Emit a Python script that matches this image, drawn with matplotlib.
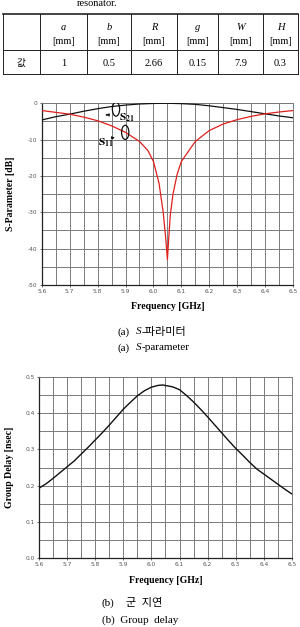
"""
S-parameter and group delay of the resonator, with the dimension table above.
"""

import matplotlib
matplotlib.use("Agg")
import matplotlib.pyplot as plt
from matplotlib.patches import Ellipse

plt.rcParams["mathtext.fontset"] = "stix"

SERIF = ["Liberation Serif", "DejaVu Serif"]
KOREAN = ["Liberation Serif", "Noto Sans CJK KR"]

# table
table_heads = ["a", "b", "R", "g", "W", "H"]
table_unit = "[mm]"
table_row_label = "값"
table_values = ["1", "0.5", "2.66", "0.15", "7.9", "0.3"]

# (a) S-parameter
s21_freq = [5.6, 5.65, 5.7, 5.75, 5.8, 5.85, 5.9, 5.95, 6.0, 6.05,
            6.1, 6.15, 6.2, 6.25, 6.3, 6.35, 6.4, 6.45, 6.5]
s21_db = [-4.6, -3.7, -3.0, -2.2, -1.5, -0.9, -0.5, -0.2, -0.05, 0.0,
          -0.1, -0.3, -0.7, -1.2, -1.7, -2.3, -2.9, -3.5, -4.0]

s11_freq = [5.6, 5.65, 5.7, 5.75, 5.8, 5.85, 5.9, 5.95, 5.98, 6.0, 6.02,
            6.035, 6.045, 6.05, 6.055, 6.06, 6.07, 6.085, 6.1, 6.15,
            6.2, 6.25, 6.3, 6.35, 6.4, 6.45, 6.5]
s11_db = [-2.0, -2.5, -3.0, -3.8, -4.8, -6.2, -8.0, -10.5, -13.0, -16.0, -22.0,
          -30.0, -38.0, -43.0, -37.0, -31.0, -25.0, -19.5, -16.0, -10.5,
          -7.5, -5.7, -4.5, -3.6, -2.9, -2.4, -2.0]

# (b) group delay
gd_freq = [5.6, 5.625, 5.65, 5.675, 5.7, 5.725, 5.75, 5.775, 5.8, 5.825,
           5.85, 5.875, 5.9, 5.925, 5.95, 5.975, 6.0, 6.025, 6.04, 6.075,
           6.1, 6.125, 6.15, 6.175, 6.2, 6.225, 6.25, 6.275, 6.3, 6.325,
           6.35, 6.375, 6.4, 6.425, 6.45, 6.475, 6.5]
gd_nsec = [0.193, 0.205, 0.220, 0.236, 0.252, 0.268, 0.287, 0.306, 0.326, 0.346,
           0.367, 0.389, 0.411, 0.430, 0.448, 0.462, 0.472, 0.477, 0.478, 0.473,
           0.465, 0.449, 0.431, 0.411, 0.390, 0.368, 0.346, 0.324, 0.303, 0.284,
           0.264, 0.246, 0.232, 0.218, 0.204, 0.190, 0.177]

freq_ticks = [5.6, 5.7, 5.8, 5.9, 6.0, 6.1, 6.2, 6.3, 6.4, 6.5]


def _style_axes(ax, yticks, ylabels, ylim):
    ax.set_xlim(5.6, 6.5)
    ax.set_ylim(*ylim)
    ax.set_xticks(freq_ticks)
    ax.set_xticklabels([f"{t:.1f}" for t in freq_ticks])
    ax.set_yticks(yticks)
    ax.set_yticklabels(ylabels)
    ax.set_xticks([5.6 + 0.05 * i for i in range(19)], minor=True)
    ax.tick_params(which="both", length=1.5, width=0.6, colors="#555555",
                   labelsize=4.2, pad=1.5)
    ax.tick_params(which="minor", length=0)
    ax.grid(True, which="both", color="#7a7a7a", linewidth=0.7)
    for name, sp in ax.spines.items():
        sp.set_color("#222222" if name in ("left", "bottom") else "#7a7a7a")
        sp.set_linewidth(0.9 if name in ("left", "bottom") else 0.7)


fig = plt.figure(figsize=(3.0, 6.27), dpi=100)

# page overlay in pixel coordinates: table and captions
page = fig.add_axes([0, 0, 1, 1], zorder=-1)
page.set_xlim(0, 300)
page.set_ylim(627, 0)
page.axis("off")

page.text(97, 4, "resonator.", ha="center", va="center", fontsize=7.5, family=SERIF)

col_x = [3, 40, 87, 131, 177, 218, 263, 298]
row_y = [14, 50, 74]
for y in row_y:
    page.plot([col_x[0], col_x[-1]], [y, y], color="#222222",
              lw=1.2 if y == row_y[0] else 0.7)
for x in col_x:
    page.plot([x, x], [row_y[0], row_y[-1]], color="#222222", lw=0.7)

for i, (head, val) in enumerate(zip(table_heads, table_values)):
    cx = (col_x[i + 1] + col_x[i + 2]) / 2
    page.text(cx, 27, head, ha="center", va="center", fontsize=7.5,
              family=SERIF, style="italic")
    page.text(cx, 42, table_unit, ha="center", va="center", fontsize=7.5, family=SERIF)
    page.text(cx, 63, val, ha="center", va="center", fontsize=7.5, family=SERIF)
page.text((col_x[0] + col_x[1]) / 2, 63, table_row_label, ha="center", va="center",
          fontsize=7, family=["Noto Sans CJK KR"])

# (a) S-parameter
ax1 = fig.add_axes([0.139, 0.5455, 0.838, 0.2898])
ax1.plot(s21_freq, s21_db, color="#111111", lw=0.9, zorder=3)
ax1.plot(s11_freq, s11_db, color="#e0201c", lw=0.9, zorder=4)
_style_axes(ax1, [0, -10, -20, -30, -40, -50],
            ["0", "-10", "-20", "-30", "-40", "-50"], (-50, 0))
ax1.set_yticks([-5, -15, -25, -35, -45], minor=True)
ax1.set_ylabel("S-Parameter [dB]", fontsize=7, family=SERIF, fontweight="bold", labelpad=9)
ax1.set_xlabel("Frequency [GHz]", fontsize=7, family=SERIF, fontweight="bold", labelpad=6)

ax1.add_patch(Ellipse((5.866, -1.6), 0.026, 3.9, fill=False, ec="#111111", lw=0.9, zorder=5))
ax1.annotate("", xy=(5.82, -3.2), xytext=(5.842, -3.2),
             arrowprops=dict(arrowstyle="-|>", color="#111111", lw=0.7,
                             mutation_scale=4))
ax1.text(5.876, -4.0, r"$\mathbf{S_{21}}$", fontsize=8, ha="left", va="center", zorder=6)
ax1.add_patch(Ellipse((5.899, -8.0), 0.026, 3.9, fill=False, ec="#111111", lw=0.9, zorder=5))
ax1.annotate("", xy=(5.872, -9.5), xytext=(5.84, -9.5),
             arrowprops=dict(arrowstyle="-|>", color="#111111", lw=0.7,
                             mutation_scale=4))
ax1.text(5.8, -11.0, r"$\mathbf{S_{11}}$", fontsize=8, ha="left", va="center", zorder=6)

page.text(118, 332, "(a)", ha="left", va="center", fontsize=8, family=SERIF)
page.text(136, 332, "S", ha="left", va="center", fontsize=8, family=SERIF, style="italic")
page.text(141.5, 332, "-파라미터", ha="left", va="center", fontsize=8, family=KOREAN)
page.text(118, 348, "(a)", ha="left", va="center", fontsize=8, family=SERIF)
page.text(136, 348, "S", ha="left", va="center", fontsize=8, family=SERIF, style="italic")
page.text(141.5, 348, "-parameter", ha="left", va="center", fontsize=8, family=SERIF)

# (b) group delay
ax2 = fig.add_axes([0.13, 0.110, 0.843, 0.2887])
ax2.plot(gd_freq, gd_nsec, color="#111111", lw=1.0, zorder=3)
_style_axes(ax2, [0.0, 0.1, 0.2, 0.3, 0.4, 0.5],
            ["0.0", "0.1", "0.2", "0.3", "0.4", "0.5"], (0, 0.5))
ax2.set_yticks([0.05, 0.15, 0.25, 0.35, 0.45], minor=True)
ax2.set_ylabel("Group Delay [nsec]", fontsize=7, family=SERIF, fontweight="bold", labelpad=8)
ax2.set_xlabel("Frequency [GHz]", fontsize=7, family=SERIF, fontweight="bold", labelpad=6)

page.text(102, 603, "(b)", ha="left", va="center", fontsize=8, family=SERIF)
page.text(126, 603, "군  지연", ha="left", va="center", fontsize=8, family=KOREAN)
page.text(102, 620, "(b)  Group  delay", ha="left", va="center", fontsize=8, family=SERIF)

fig.savefig("out.png", dpi=100)
